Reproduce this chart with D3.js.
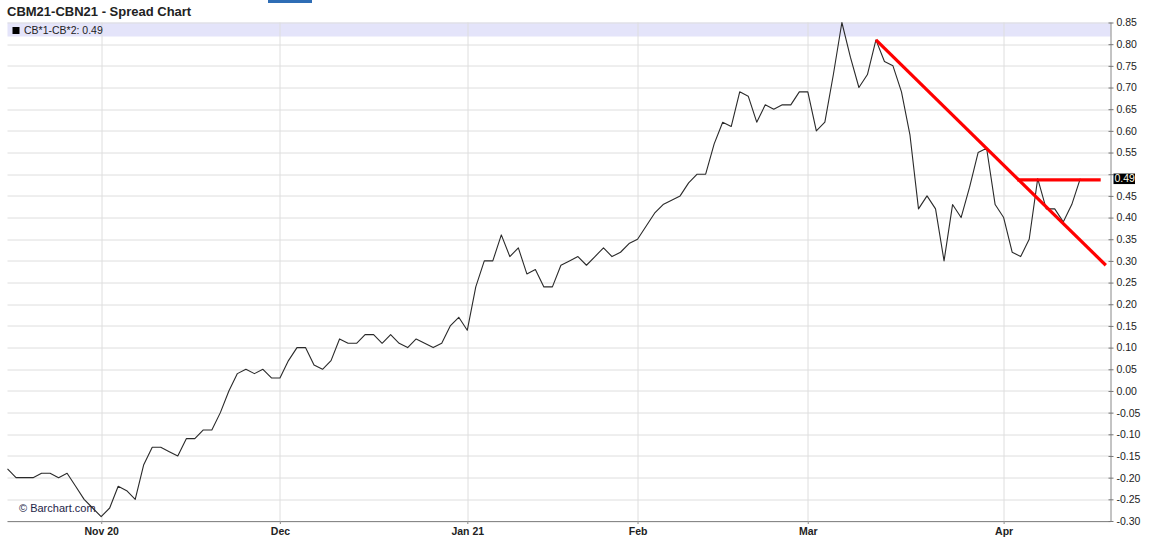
<!DOCTYPE html>
<html>
<head>
<meta charset="utf-8">
<script src="https://cdn.jsdelivr.net/npm/d3@7"></script>
<style>
  body { margin: 0; background: #fff; }
  svg { display: block; font-family: Arial, "Liberation Sans", sans-serif; }
</style>
</head>
<body>
<div id="chart"></div>
<script>
// daily closes of the CB*1-CB*2 spread (one value per trading session)
const spread = [
  -0.18, -0.20, -0.20, -0.20, -0.19, -0.19, -0.20, -0.19, -0.22, -0.25,
  -0.27, -0.29, -0.27, -0.22, -0.23, -0.25, -0.17, -0.13, -0.13, -0.14,
  -0.15, -0.11, -0.11, -0.09, -0.09, -0.05, 0.00, 0.04, 0.05, 0.04,
  0.05, 0.03, 0.03, 0.07, 0.10, 0.10, 0.06, 0.05, 0.07, 0.12,
  0.11, 0.11, 0.13, 0.13, 0.11, 0.13, 0.11, 0.10, 0.12, 0.11,
  0.10, 0.11, 0.15, 0.17, 0.14, 0.24, 0.30, 0.30, 0.36, 0.31,
  0.33, 0.27, 0.28, 0.24, 0.24, 0.29, 0.30, 0.31, 0.29, 0.31,
  0.33, 0.31, 0.32, 0.34, 0.35, 0.38, 0.41, 0.43, 0.44, 0.45,
  0.48, 0.50, 0.50, 0.57, 0.62, 0.61, 0.69, 0.68, 0.62, 0.66,
  0.65, 0.66, 0.66, 0.69, 0.69, 0.60, 0.62, 0.73, 0.85, 0.77,
  0.70, 0.73, 0.81, 0.76, 0.75, 0.69, 0.59, 0.42, 0.45, 0.42,
  0.30, 0.43, 0.40, 0.47, 0.55, 0.56, 0.43, 0.40, 0.32, 0.31,
  0.35, 0.49, 0.42, 0.42, 0.39, 0.43, 0.49
];

// first session of each month (index into spread)
const monthIdx = [11, 32, 54, 74, 94, 117];
const monthLabels = ["Nov 20", "Dec", "Jan 21", "Feb", "Mar", "Apr"];

const yTicks = [-0.30, -0.25, -0.20, -0.15, -0.10, -0.05, 0.00, 0.05, 0.10, 0.15,
  0.20, 0.25, 0.30, 0.35, 0.40, 0.45, 0.50, 0.55, 0.60, 0.65, 0.70, 0.75, 0.80, 0.85];

const lastValue = 0.49;
const seriesName = "CB*1-CB*2";
const title = "CBM21-CBN21 - Spread Chart";

// hand-drawn trend lines: [session index, value]
const trendDown = [[102, 0.81], [129, 0.29]];
const trendFlat = [[118.6, 0.487], [128.4, 0.487]];

const width = 1156, height = 551;
const margin = { top: 22.5, right: 45.5, bottom: 30, left: 7.5 };
const innerW = width - margin.left - margin.right;
const innerH = height - margin.top - margin.bottom;
const xMax = 129.55; // right edge of plot in sessions

const svg = d3.select("#chart").append("svg")
  .attr("width", width)
  .attr("height", height);

// title + small blue tab on top
svg.append("rect")
  .attr("x", 268).attr("y", 0).attr("width", 44).attr("height", 3)
  .attr("fill", "#2f6db5");

svg.append("text")
  .attr("x", 7).attr("y", 15.5)
  .style("font-size", "13px")
  .style("font-weight", "bold")
  .attr("fill", "#222")
  .text(title);

const g = svg.append("g")
  .attr("transform", `translate(${margin.left},${margin.top})`);

const x = d3.scaleLinear().domain([0, xMax]).range([0, innerW]);
const y = d3.scaleLinear().domain([-0.30, 0.85]).range([innerH, 0]);

// legend band
g.append("rect")
  .attr("x", 0).attr("y", 0)
  .attr("width", innerW).attr("height", 14)
  .attr("fill", "#e4e4fa");

// grid
g.append("g").selectAll("line")
  .data(yTicks)
  .join("line")
  .attr("x1", 0).attr("x2", innerW)
  .attr("y1", d => Math.round(y(d)) + 0.5)
  .attr("y2", d => Math.round(y(d)) + 0.5)
  .attr("stroke", "#dedede");

g.append("g").selectAll("line")
  .data(monthIdx)
  .join("line")
  .attr("x1", d => Math.round(x(d)) + 0.5)
  .attr("x2", d => Math.round(x(d)) + 0.5)
  .attr("y1", 0).attr("y2", innerH + 3)
  .attr("stroke", "#dedede");

// legend entry
g.append("rect")
  .attr("x", 5).attr("y", 4.5).attr("width", 7).attr("height", 7)
  .attr("fill", "#000");
g.append("text")
  .attr("x", 16.5).attr("y", 11.5)
  .style("font-size", "10.5px")
  .attr("fill", "#222")
  .text(`${seriesName}: ${lastValue.toFixed(2)}`);

// watermark
g.append("text")
  .attr("x", 11.5).attr("y", innerH - 9.5)
  .style("font-size", "11px")
  .attr("fill", "#1e2548")
  .text("\u00a9 Barchart.com");

// price line
const line = d3.line()
  .x((d, i) => x(i))
  .y(d => y(d));

g.append("path")
  .datum(spread)
  .attr("d", line)
  .attr("fill", "none")
  .attr("stroke", "#2a2a2a")
  .attr("stroke-width", 1.1)
  .attr("stroke-linejoin", "round");

// trend lines
const tl = d3.line().x(d => x(d[0])).y(d => y(d[1]));
[trendDown, trendFlat].forEach(t => {
  g.append("path")
    .datum(t)
    .attr("d", tl)
    .attr("fill", "none")
    .attr("stroke", "#ff0000")
    .attr("stroke-width", 3.2);
});

// bottom axis
const xAxis = g.append("g")
  .attr("transform", `translate(0,${innerH})`)
  .call(d3.axisBottom(x)
    .tickValues(monthIdx)
    .tickFormat((d, i) => monthLabels[i])
    .tickSize(3)
    .tickPadding(4));
xAxis.select(".domain").attr("stroke", "#888").attr("d", `M0,0.5H${innerW}`);
xAxis.selectAll(".tick line").attr("stroke", "#999");
xAxis.selectAll(".tick text")
  .style("font-size", "10.5px")
  .style("font-weight", "bold")
  .attr("fill", "#222");

// right axis
const yAxis = g.append("g")
  .attr("transform", `translate(${innerW},0)`)
  .call(d3.axisRight(y)
    .tickValues(yTicks)
    .tickFormat(d => Math.abs(d - lastValue) < 0.02 ? "" : d.toFixed(2))
    .tickSize(3)
    .tickPadding(3));
yAxis.select(".domain").attr("stroke", "#888").attr("d", `M0.5,0V${innerH}`);
yAxis.selectAll(".tick line").attr("x1", -2).attr("stroke", "#777");
yAxis.selectAll(".tick text")
  .style("font-size", "10.5px")
  .attr("fill", "#222");

// last value marker
const lv = yAxis.append("g").attr("transform", `translate(3,${y(lastValue)})`);
lv.append("rect")
  .attr("x", 0).attr("y", -5).attr("width", 21.5).attr("height", 10.5)
  .attr("fill", "#000");
lv.append("text")
  .attr("x", 1).attr("y", 0).attr("dy", "0.36em")
  .style("font-size", "10.5px")
  .attr("fill", "#fffbe8")
  .text(lastValue.toFixed(2));
</script>
</body>
</html>
